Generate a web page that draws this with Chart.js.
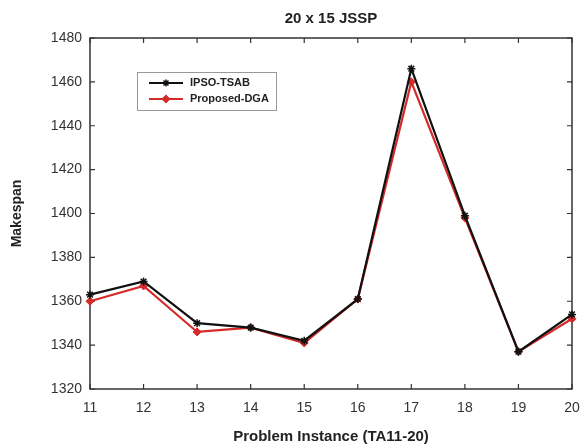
<!DOCTYPE html>
<html><head><meta charset="utf-8">
<script src="https://cdn.jsdelivr.net/npm/chart.js@4.4.0/dist/chart.umd.min.js"></script>
<style>html,body{margin:0;padding:0;background:#fff}#wrap{width:582px;height:446px;position:relative}</style>
</head><body><div id="wrap"><canvas id="c" width="582" height="446"></canvas></div>
<script>
const categories = ['11','12','13','14','15','16','17','18','19','20'];
const ipsoTsab = [1363,1369,1350,1348,1342,1361,1466,1399,1337,1354];
const proposedDga = [1360,1367,1346,1348,1341,1361,1460,1398,1337,1352];
const yTickValues = [1320,1340,1360,1380,1400,1420,1440,1460,1480];
const seriesNames = ['IPSO-TSAB','Proposed-DGA'];
const chartTitle = '20 x 15 JSSP';
const xAxisTitle = 'Problem Instance (TA11-20)';
const yAxisTitle = 'Makespan';

const FONT = '"Liberation Sans", Arial, sans-serif';

const framePlugin = {
  id: 'frame',
  beforeDatasetsDraw(chart) {
    const {ctx, chartArea: a, scales} = chart;
    ctx.save();
    ctx.strokeStyle = '#333';
    ctx.lineWidth = 1.5;
    ctx.strokeRect(a.left, a.top, a.right - a.left, a.bottom - a.top);
    ctx.lineWidth = 1.2;
    const L = 5;
    ctx.beginPath();
    categories.forEach((c, i) => {
      const x = scales.x.getPixelForValue(i);
      ctx.moveTo(x, a.bottom); ctx.lineTo(x, a.bottom - L);
      ctx.moveTo(x, a.top); ctx.lineTo(x, a.top + L);
    });
    yTickValues.forEach(v => {
      const y = scales.y.getPixelForValue(v);
      ctx.moveTo(a.left, y); ctx.lineTo(a.left + L, y);
      ctx.moveTo(a.right, y); ctx.lineTo(a.right - L, y);
    });
    ctx.stroke();
    ctx.restore();
  },
  afterDraw(chart) {
    const {ctx} = chart;
    ctx.save();
    const bx = 137, by = 72, bw = 139, bh = 38;
    ctx.fillStyle = '#fff';
    ctx.fillRect(bx, by, bw, bh);
    ctx.strokeStyle = '#999';
    ctx.lineWidth = 1;
    ctx.strokeRect(bx + 0.5, by + 0.5, bw, bh);
    const rows = [83, 99];
    chart.data.datasets.forEach((ds, i) => {
      const y = rows[i];
      ctx.strokeStyle = ds.borderColor;
      ctx.lineWidth = 2;
      ctx.beginPath(); ctx.moveTo(149, y); ctx.lineTo(183, y); ctx.stroke();
      ctx.fillStyle = ds.pointBackgroundColor;
      ctx.strokeStyle = ds.pointBorderColor;
      ctx.lineWidth = 1.5;
      Chart.helpers.drawPoint(ctx, {pointStyle: ds.pointStyle, radius: ds.pointRadius - 0.5, borderWidth: 1.5}, 166, y);
      ctx.fillStyle = '#222';
      ctx.font = 'bold 11px ' + FONT;
      ctx.textBaseline = 'middle';
      ctx.textAlign = 'left';
      ctx.fillText(ds.label, 190, y);
    });
    ctx.restore();
  }
};

new Chart(document.getElementById('c'), {
  type: 'line',
  data: {
    labels: categories,
    datasets: [
      {label: seriesNames[0], data: ipsoTsab, borderColor: '#111', backgroundColor: '#111',
       borderWidth: 2.2, pointStyle: 'star', pointRadius: 4, pointBorderColor: '#111',
       pointBackgroundColor: '#111', pointBorderWidth: 1.5, tension: 0},
      {label: seriesNames[1], data: proposedDga, borderColor: '#d42a2a', backgroundColor: '#d42a2a',
       borderWidth: 2.2, pointStyle: 'rectRot', pointRadius: 4, pointBorderColor: '#d42a2a',
       pointBackgroundColor: '#d42a2a', pointBorderWidth: 1, tension: 0}
    ]
  },
  options: {
    responsive: false, animation: false, devicePixelRatio: 1,
    layout: {padding: {left: 0, right: 0, top: 0, bottom: 0}},
    plugins: {
      legend: {display: false},
      tooltip: {enabled: false},
      title: {display: true, fullSize: false, text: chartTitle, color: '#222',
              font: {family: FONT, size: 15, weight: 'bold'}, padding: {top: 10, bottom: 10}}
    },
    scales: {
      x: {
        type: 'category', offset: false,
        grid: {display: false, drawTicks: false}, border: {display: false},
        ticks: {color: '#333', font: {family: FONT, size: 14}, padding: 11, maxRotation: 0, autoSkip: false},
        title: {display: true, text: xAxisTitle, color: '#222', font: {family: FONT, size: 15, weight: 'bold'}, padding: {top: 0, bottom: 0}},
        afterFit(s) { s.height = 57; s.paddingRight = 10; s.paddingLeft = 0; }
      },
      y: {
        min: 1320, max: 1480,
        grid: {display: false, drawTicks: false}, border: {display: false},
        ticks: {color: '#333', font: {family: FONT, size: 14}, padding: 8, stepSize: 20,
                callback: v => String(v)},
        afterBuildTicks(s) { s.ticks = yTickValues.map(v => ({value: v})); },
        title: {display: true, text: yAxisTitle, color: '#222', font: {family: FONT, size: 14, weight: 'bold'}, padding: {top: 9, bottom: 0}},
        afterFit(s) { s.width = 90; }
      }
    }
  },
  plugins: [framePlugin]
});
</script>
</body></html>
